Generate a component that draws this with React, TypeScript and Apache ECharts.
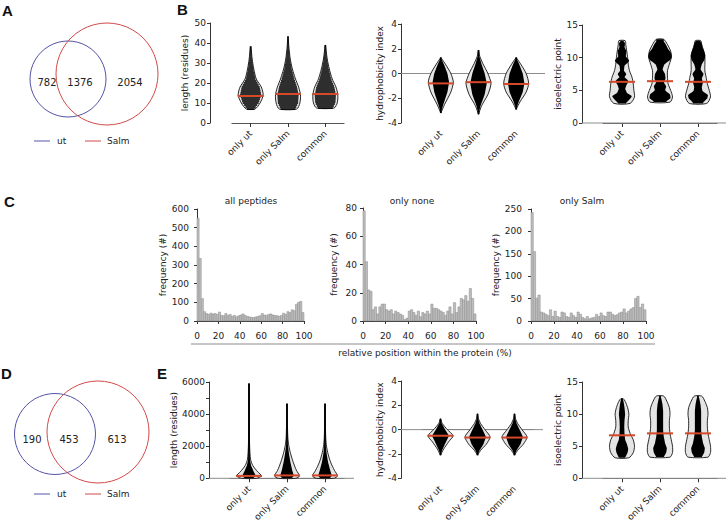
import React, { useEffect, useRef } from "react";
import * as echarts from "echarts";

// ---------- data ----------
const groups = ["only ut", "only Salm", "common"];

const vennA = [782, 1376, 2054];
const vennD = [190, 453, 613];
const vennNames = ["ut", "Salm"];

// panel C: 50 bins, 2 % wide
const binWidth = 2;
const histAll = [550, 335, 120, 50, 40, 35, 42, 38, 40, 35, 48, 30, 28, 40, 30, 35, 25, 30, 22, 28, 32, 38, 30, 25, 22, 20, 18, 22, 25, 28, 40, 32, 30, 35, 38, 32, 30, 28, 25, 30, 42, 35, 50, 45, 60, 55, 90, 100, 105, 45];
const histNone = [78, 42, 22, 21, 8, 10, 5, 10, 12, 12, 8, 7, 8, 5, 7, 6, 5, 4, 1, 2, 7, 8, 6, 4, 7, 3, 6, 5, 7, 5, 12, 9, 9, 8, 7, 6, 4, 7, 10, 5, 13, 6, 10, 16, 15, 18, 14, 23, 16, 5];
const histSalm = [242, 155, 51, 58, 20, 18, 15, 12, 25, 10, 22, 10, 8, 20, 18, 10, 8, 18, 12, 8, 20, 15, 8, 5, 10, 5, 7, 8, 15, 10, 18, 12, 10, 20, 20, 15, 12, 14, 18, 20, 27, 18, 22, 27, 30, 50, 55, 30, 38, 25];
const histTitles = ["all peptides", "only none", "only Salm"];

// violin outlines: [value, relative half width]
const bLenUt = [[7, 0.35], [10, 0.75], [14, 1.0], [18, 0.85], [22, 0.45], [27, 0.25], [32, 0.12], [38, 0.02]];
const bLenSalm = [[7, 0.7], [10, 0.95], [14, 1.0], [18, 0.85], [22, 0.6], [27, 0.35], [32, 0.18], [38, 0.07], [43, 0.01]];
const bLenCom = [[7.5, 0.7], [10, 0.95], [14, 1.0], [18, 0.85], [22, 0.55], [27, 0.32], [32, 0.15], [39, 0.01]];
const bLenMedians = [13.5, 14.5, 14.5];

const bHydUt = [[-3.2, 0], [-2.5, 0.3], [-1.5, 0.8], [-0.7, 1.0], [0, 0.8], [0.7, 0.4], [1.3, 0]];
const bHydSalm = [[-3.3, 0], [-2.6, 0.25], [-1.7, 0.75], [-0.8, 1.0], [0, 0.75], [0.8, 0.35], [1.4, 0.1], [1.9, 0]];
const bHydCom = [[-2.9, 0], [-2.3, 0.3], [-1.5, 0.8], [-0.8, 1.0], [0, 0.8], [0.7, 0.4], [1.3, 0]];
const bHydMedians = [-0.8, -0.7, -0.85];

const bIpUt = [[3, 0.65], [4, 1.0], [5, 0.95], [6, 0.9], [7, 0.8], [8, 0.6], [9, 0.5], [10, 0.45], [11, 0.38], [12, 0.3], [12.6, 0.25]];
const bIpSalm = [[3.2, 0.8], [4, 1.0], [5, 0.85], [6, 0.65], [7, 0.6], [8, 0.6], [9, 0.75], [10, 0.9], [11, 0.85], [12, 0.6], [12.8, 0.3]];
const bIpCom = [[3, 0.7], [4, 1.0], [5, 0.9], [6, 0.75], [7, 0.65], [8, 0.55], [9, 0.55], [10, 0.55], [11, 0.45], [12, 0.3], [12.6, 0.22]];
const bIpCoreUt = [[3, 0.3], [3.6, 0.6], [4.1, 0.8], [4.6, 0.4], [5.2, 0.25], [5.8, 0.35], [6.4, 0.55], [7, 0.2], [7.5, 0.35], [8, 0.15], [8.8, 0.2], [9.5, 0.6], [10.2, 0.3], [11, 0.35], [11.6, 0.2], [12.2, 0.25], [12.6, 0.1]];
const bIpCoreSalm = [[3.3, 0.5], [3.8, 0.85], [4.4, 0.8], [5, 0.4], [5.6, 0.5], [6.2, 0.3], [6.8, 0.45], [7.5, 0.4], [8.2, 0.2], [9, 0.35], [9.6, 0.8], [10.1, 0.95], [10.7, 0.9], [11.3, 0.65], [11.9, 0.5], [12.5, 0.3]];
const bIpCoreCom = [[3.1, 0.4], [3.8, 0.75], [4.3, 0.8], [4.9, 0.35], [5.5, 0.3], [6.2, 0.4], [6.8, 0.3], [7.5, 0.45], [8.2, 0.2], [9, 0.3], [9.6, 0.5], [10.3, 0.6], [11, 0.5], [11.6, 0.35], [12.2, 0.3], [12.6, 0.15]];
const bIpMedians = [6.3, 6.4, 6.3];

const eLenUt = [[0, 0.6], [150, 1.0], [400, 0.7], [800, 0.3], [1200, 0.12], [2000, 0.05], [3000, 0.03], [5900, 0.01]];
const eLenSalm = [[0, 0.7], [150, 1.0], [500, 0.75], [1000, 0.5], [1500, 0.3], [2000, 0.15], [2500, 0.07], [3500, 0.03], [4650, 0.01]];
const eLenCom = [[0, 0.7], [150, 1.0], [500, 0.75], [1000, 0.45], [1500, 0.25], [2000, 0.12], [2500, 0.06], [3500, 0.03], [4650, 0.01]];
const eLenMedians = [150, 180, 180];

const eHydUt = [[-2.1, 0], [-1.6, 0.25], [-1, 0.65], [-0.5, 1.0], [0, 0.55], [0.5, 0.15], [0.9, 0]];
const eHydSalm = [[-2.1, 0], [-1.7, 0.25], [-1.2, 0.7], [-0.6, 1.0], [0, 0.6], [0.5, 0.25], [0.9, 0.08], [1.3, 0]];
const eHydCom = [[-2.1, 0], [-1.7, 0.25], [-1.2, 0.7], [-0.6, 1.0], [0, 0.6], [0.5, 0.25], [0.9, 0.08], [1.3, 0]];
const eHydMedians = [-0.5, -0.65, -0.65];

const eIpUt = [[3.2, 0.55], [4, 0.9], [5, 1.0], [6, 0.9], [7, 0.65], [8, 0.5], [9, 0.5], [10, 0.55], [11, 0.45], [12, 0.25], [12.4, 0.1]];
const eIpSalm = [[3.3, 0.8], [4, 1.0], [5, 1.0], [6, 0.9], [7, 0.8], [8, 0.75], [9, 0.75], [10, 0.8], [11, 0.75], [12, 0.55], [12.8, 0.3]];
const eIpCom = [[3.3, 0.8], [4, 1.0], [5, 1.0], [6, 0.9], [7, 0.8], [8, 0.75], [9, 0.75], [10, 0.8], [11, 0.75], [12, 0.55], [12.8, 0.3]];
const eIpCoreUt = [[3.2, 0.25], [4, 0.45], [4.6, 0.5], [5.3, 0.4], [6, 0.25], [7, 0.2], [8, 0.18], [9, 0.2], [10, 0.25], [11, 0.2], [12, 0.12], [12.4, 0.06]];
const eIpCoreSalm = [[3.3, 0.3], [4, 0.5], [4.7, 0.55], [5.5, 0.4], [6.5, 0.3], [7.5, 0.25], [8.5, 0.25], [9.5, 0.25], [10.5, 0.25], [11.5, 0.2], [12.3, 0.12], [12.8, 0.05]];
const eIpCoreCom = [[3.3, 0.3], [4, 0.5], [4.7, 0.55], [5.5, 0.4], [6.5, 0.3], [7.5, 0.25], [8.5, 0.25], [9.5, 0.25], [10.5, 0.25], [11.5, 0.2], [12.3, 0.12], [12.8, 0.05]];
const eIpMedians = [6.7, 7.0, 7.0];

// ---------- styling ----------
const FONT = "DejaVu Sans";
const AXIS = "#333";
const TXT = "#222";
const BLUE = "#5454a6";
const RED = "#d24a4a";
const MEDIAN = "#d6482a";

function interp(p: number[][], v: number) {
  if (v <= p[0][0]) return p[0][1];
  for (let i = 1; i < p.length; i++) {
    if (v <= p[i][0]) {
      const t = (v - p[i - 1][0]) / (p[i][0] - p[i - 1][0]);
      return p[i - 1][1] + t * (p[i][1] - p[i - 1][1]);
    }
  }
  return p[p.length - 1][1];
}

const option: any = { animation: false, grid: [], xAxis: [], yAxis: [], series: [], title: [], graphic: [] };

function yAxisCommon(gi: number, min: number, max: number, interval: number, offset: number, name: string, nameGap: number, fmt?: (v: number) => string) {
  return {
    gridIndex: gi, type: "value", min, max, interval, offset,
    axisLine: { show: true, lineStyle: { color: AXIS, width: 1 } },
    axisTick: { show: true, length: 3, lineStyle: { color: AXIS } },
    axisLabel: { fontSize: 9, color: TXT, fontFamily: FONT, margin: 4, formatter: fmt },
    splitLine: { show: false },
    name, nameLocation: "middle", nameGap, nameRotate: 90,
    nameTextStyle: { fontSize: 9, color: TXT, fontFamily: FONT },
  };
}

interface VP {
  yAxisX: number; xStart: number; xEnd: number; top: number; bottom: number;
  min: number; max: number; interval: number; fmt?: (v: number) => string;
  name: string; nameGap: number; outlines: number[][][]; cores?: number[][][]; k: number;
  medians: number[]; stripe: number; zero: boolean;
}

function addViolinPanel(p: VP) {
  const gi = option.grid.length;
  option.grid.push({ left: p.xStart, top: p.top, width: p.xEnd - p.xStart, height: p.bottom - p.top });
  option.xAxis.push({
    gridIndex: gi, type: "category", data: groups, offset: 4,
    axisLine: { show: true, lineStyle: { color: "#555", width: 1.2 } },
    axisTick: { show: true, alignWithLabel: true, length: 4, lineStyle: { color: AXIS } },
    axisLabel: { rotate: 45, fontSize: 9, color: TXT, fontFamily: FONT, margin: 5, interval: 0 },
  });
  option.yAxis.push(yAxisCommon(gi, p.min, p.max, p.interval, p.xStart - p.yAxisX, p.name, p.nameGap, p.fmt));
  const H = 12.5;
  if (p.zero) {
    option.series.push({
      type: "custom", xAxisIndex: gi, yAxisIndex: gi, z: 1, silent: true,
      data: [[0, 0]],
      renderItem: (params: any, api: any) => {
        const cs = params.coordSys;
        const y = api.coord([0, 0])[1];
        return { type: "line", shape: { x1: cs.x - (p.xStart - p.yAxisX), y1: y, x2: cs.x + cs.width + 10, y2: y }, style: { stroke: "#8c8c8c", lineWidth: 1 } };
      },
    });
  }
  option.series.push({
    type: "custom", xAxisIndex: gi, yAxisIndex: gi, z: 3, silent: true,
    encode: { x: 0, y: 1 },
    data: groups.map((g, i) => [i, p.medians[i]]),
    renderItem: (params: any, api: any) => {
      const i = params.dataIndex;
      const out = p.outlines[i];
      const cx = api.coord([i, p.medians[i]])[0];
      const yp = (v: number) => api.coord([i, v])[1];
      const pts: number[][] = [];
      out.forEach(([v, w]) => pts.push([cx + w * H, yp(v)]));
      for (let j = out.length - 1; j >= 0; j--) pts.push([cx - out[j][1] * H, yp(out[j][0])]);
      const children: any[] = [
        { type: "polygon", shape: { points: pts, smooth: 0.25 }, style: { fill: "#e4e4e4", stroke: "#111", lineWidth: 0.9 } },
      ];
      const lo = out[0][0], hi = out[out.length - 1][0];
      const core = p.cores ? p.cores[i] : null;
      const halfAt = (v: number) => Math.max(0.9, core ? interp(core, v) * H : interp(out, v) * H * p.k);
      if (p.stripe > 0) {
        for (let v = lo; v <= hi + 1e-9; v += p.stripe) {
          const hw = halfAt(v);
          const y = yp(v);
          children.push({ type: "line", shape: { x1: cx - hw, y1: y, x2: cx + hw, y2: y }, style: { stroke: "#000", lineWidth: 1.6 } });
        }
      } else {
        const cpts: number[][] = [];
        const n = 60;
        for (let s = 0; s <= n; s++) { const v = lo + (hi - lo) * s / n; cpts.push([cx + halfAt(v), yp(v)]); }
        for (let s = n; s >= 0; s--) { const v = lo + (hi - lo) * s / n; cpts.push([cx - halfAt(v), yp(v)]); }
        children.push({ type: "polygon", shape: { points: cpts }, style: { fill: "#000" } });
      }
      const my = yp(p.medians[i]);
      children.push({ type: "line", shape: { x1: cx - 13, y1: my, x2: cx + 13, y2: my }, style: { stroke: MEDIAN, lineWidth: 2 } });
      return { type: "group", children };
    },
  });
}

interface HP { yAxisX: number; xStart: number; xEnd: number; top: number; bottom: number; max: number; interval: number; values: number[]; title: string; titleX: number; nameGap: number; }

function addHistPanel(p: HP) {
  const gi = option.grid.length;
  option.grid.push({ left: p.xStart, top: p.top, width: p.xEnd - p.xStart, height: p.bottom - p.top });
  option.xAxis.push({
    gridIndex: gi, type: "value", min: 0, max: 100, interval: 20, offset: 6,
    axisLine: { show: true, lineStyle: { color: AXIS, width: 1 } },
    axisTick: { show: true, length: 3, lineStyle: { color: AXIS } },
    axisLabel: { fontSize: 9, color: TXT, fontFamily: FONT, margin: 4 },
    splitLine: { show: false },
  });
  option.yAxis.push(yAxisCommon(gi, 0, p.max, p.interval, p.xStart - p.yAxisX, "frequency (#)", p.nameGap));
  option.series.push({
    type: "custom", xAxisIndex: gi, yAxisIndex: gi, silent: true,
    encode: { x: [0, 1], y: 2 },
    data: p.values.map((v, i) => [i * binWidth, (i + 1) * binWidth, v]),
    renderItem: (params: any, api: any) => {
      const p0 = api.coord([api.value(0), 0]);
      const p1 = api.coord([api.value(1), api.value(2)]);
      return { type: "rect", shape: { x: p0[0], y: p1[1], width: p1[0] - p0[0], height: p0[1] - p1[1] }, style: { fill: "#bdbdbd", stroke: "#8a8a8a", lineWidth: 0.5 } };
    },
  });
  option.title.push({ text: p.title, left: p.titleX, top: 191, textAlign: "center", textStyle: { fontSize: 9, fontWeight: "normal", color: TXT, fontFamily: FONT } });
}

// ---- row B ----
addViolinPanel({ yAxisX: 210, xStart: 232, xEnd: 344, top: 23, bottom: 123, min: 0, max: 50, interval: 10, name: "length (residues)", nameGap: 21, outlines: [bLenUt, bLenSalm, bLenCom], k: 0.85, medians: bLenMedians, stripe: 1, zero: false });
addViolinPanel({ yAxisX: 401, xStart: 422, xEnd: 535, top: 24, bottom: 123, min: -4, max: 4, interval: 2, name: "hydrophobicity index", nameGap: 17, outlines: [bHydUt, bHydSalm, bHydCom], k: 0.66, medians: bHydMedians, stripe: 0, zero: true });
addViolinPanel({ yAxisX: 582, xStart: 603, xEnd: 717, top: 25, bottom: 123, min: 0, max: 15, interval: 5, name: "isoelectric point", nameGap: 20, outlines: [bIpUt, bIpSalm, bIpCom], cores: [bIpCoreUt, bIpCoreSalm, bIpCoreCom], k: 0.5, medians: bIpMedians, stripe: 0, zero: true });
// ---- row C ----
addHistPanel({ yAxisX: 193, xStart: 197, xEnd: 304, top: 209, bottom: 321, max: 600, interval: 100, values: histAll, title: histTitles[0], titleX: 246, nameGap: 25 });
addHistPanel({ yAxisX: 361, xStart: 363, xEnd: 476, top: 208, bottom: 321, max: 80, interval: 20, values: histNone, title: histTitles[1], titleX: 407, nameGap: 23 });
addHistPanel({ yAxisX: 526, xStart: 531, xEnd: 646, top: 209, bottom: 321, max: 250, interval: 50, values: histSalm, title: histTitles[2], titleX: 577, nameGap: 24 });
// ---- row E ----
addViolinPanel({ yAxisX: 209, xStart: 230, xEnd: 344, top: 382, bottom: 480, min: 0, max: 6000, interval: 1000, fmt: (v: number) => (v % 2000 === 0 ? String(v) : ""), name: "length (residues)", nameGap: 30, outlines: [eLenUt, eLenSalm, eLenCom], k: 0.55, medians: eLenMedians, stripe: 0, zero: true });
addViolinPanel({ yAxisX: 401, xStart: 422, xEnd: 533, top: 381, bottom: 480, min: -4, max: 4, interval: 2, name: "hydrophobicity index", nameGap: 17, outlines: [eHydUt, eHydSalm, eHydCom], k: 0.68, medians: eHydMedians, stripe: 0, zero: true });
addViolinPanel({ yAxisX: 582, xStart: 603, xEnd: 717, top: 382, bottom: 480, min: 0, max: 15, interval: 5, name: "isoelectric point", nameGap: 20, outlines: [eIpUt, eIpSalm, eIpCom], cores: [eIpCoreUt, eIpCoreSalm, eIpCoreCom], k: 0.5, medians: eIpMedians, stripe: 0, zero: true });

// ---- graphics: panel letters, Venn diagrams, C axis title ----
const letterStyle = (t: string, x: number, y: number) => ({ type: "text", x, y, style: { text: t, fontSize: 15, fontWeight: "bold", fontFamily: "Liberation Sans", fill: "#111" } });
option.graphic.push(letterStyle("A", 2, 3), letterStyle("B", 177, 2), letterStyle("C", 4, 194), letterStyle("D", 1, 366), letterStyle("E", 157, 366));

function venn(counts: number[], blue: number[], red: number[], textY: number, textX: number[], legendY: number) {
  const g: any[] = [];
  g.push({ type: "circle", shape: { cx: blue[0], cy: blue[1], r: blue[2] }, style: { fill: "none", stroke: BLUE, lineWidth: 1 } });
  g.push({ type: "circle", shape: { cx: red[0], cy: red[1], r: red[2] }, style: { fill: "none", stroke: RED, lineWidth: 1 } });
  counts.forEach((c, i) => g.push({ type: "text", x: textX[i], y: textY, style: { text: String(c), fontSize: 10, fontFamily: FONT, fill: TXT, align: "center", verticalAlign: "middle" } }));
  g.push({ type: "line", shape: { x1: 34, y1: legendY, x2: 50, y2: legendY }, style: { stroke: BLUE, lineWidth: 1 } });
  g.push({ type: "text", x: 57, y: legendY, style: { text: vennNames[0], fontSize: 9, fontFamily: FONT, fill: TXT, verticalAlign: "middle" } });
  g.push({ type: "line", shape: { x1: 85, y1: legendY, x2: 101, y2: legendY }, style: { stroke: RED, lineWidth: 1 } });
  g.push({ type: "text", x: 107, y: legendY, style: { text: vennNames[1], fontSize: 9, fontFamily: FONT, fill: TXT, verticalAlign: "middle" } });
  return g;
}
option.graphic.push(...venn(vennA, [68, 79, 38], [107, 74, 51], 82, [47, 80, 130], 141));
option.graphic.push(...venn(vennD, [55, 434, 40.5], [98, 432, 51], 439, [32, 69, 117], 494));

option.graphic.push({ type: "line", shape: { x1: 191, y1: 344, x2: 655, y2: 344 }, style: { stroke: "#8c8c8c", lineWidth: 1 } });
option.graphic.push({ type: "text", x: 425, y: 353, style: { text: "relative position within the protein (%)", fontSize: 9, fontFamily: FONT, fill: TXT, align: "center", verticalAlign: "middle" } });

export default function App() {
  const ref = useRef<HTMLDivElement>(null);
  useEffect(() => {
    document.body.style.margin = "0";
    const chart = echarts.init(ref.current!, null, { renderer: "svg" });
    chart.setOption(option);
    return () => chart.dispose();
  }, []);
  return <div ref={ref} style={{ width: 726, height: 524, background: "#fff" }} />;
}
